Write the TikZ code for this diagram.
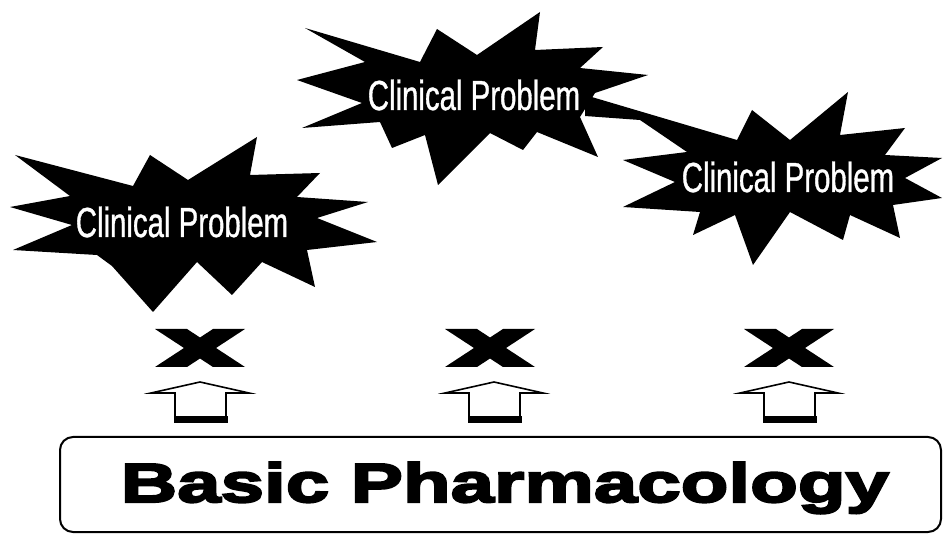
\documentclass[tikz,border=0pt]{standalone}
\usepackage{fontspec}
\newfontfamily\clinfont[FakeStretch=0.7,FakeBold=0.8]{Liberation Sans}
\newfontfamily\basicfont[FakeStretch=1.42,FakeBold=4]{Liberation Sans}
\tikzset{
  starfill/.style={fill=black,draw=none},
  clintext/.style={text=white,inner sep=0pt,anchor=base,font=\clinfont\fontsize{42}{42}\selectfont},
  basictext/.style={inner sep=0pt,anchor=base,font=\basicfont\bfseries\fontsize{55}{55}\selectfont},
  boxframe/.style={draw=black,line width=2pt,rounded corners=13pt},
  xmark/.pic={
    \fill[black] (-45,-19) -- (-13,-19) -- (0,-10.5) -- (13,-19) -- (45,-19) -- (16,0)
      -- (45,19) -- (13,19) -- (0,10.5) -- (-13,19) -- (-45,19) -- (-16,0) -- cycle;
  },
  uparrow/.pic={
    \draw[line width=1.6pt,line join=miter] (-25,421) -- (-25,393) -- (-49,393) -- (0,382)
      -- (49,393) -- (26,393) -- (26,421);
    \fill[black] (-26.5,416) rectangle (27.5,423);
  }
}
\begin{document}
\begin{tikzpicture}[x=1pt,y=-1pt]
\useasboundingbox (0,0) rectangle (943,534);
% star 1
\fill[starfill] (15,155) -- (133,186) -- (150,155) -- (188,180) -- (257,137) -- (250,175)
  -- (320,173) -- (297,197) -- (368,202) -- (317,218) -- (377,242) -- (307,250)
  -- (315,287) -- (262,262) -- (232,295) -- (197,262) -- (153,312) -- (112,266)
  -- (97,255) -- (13,250) -- (72,225) -- (10,207) -- (70,196) -- cycle;
% star 2
\fill[starfill] (305,28) -- (420,62) -- (437,29) -- (477,55) -- (540,12) -- (535,50)
  -- (603,47) -- (580,68) -- (648,75) -- (595,93) -- (580,117) -- (598,157)
  -- (537,132) -- (523,150) -- (490,133) -- (438,185) -- (425,135) -- (392,148)
  -- (380,122) -- (302,128) -- (362,103) -- (297,80) -- (365,62) -- cycle;
% star 3
\fill[starfill] (585,95) -- (737,140) -- (752,110) -- (790,140) -- (848,92) -- (840,135)
  -- (905,128) -- (885,155) -- (942,158) -- (905,178) -- (942,198) -- (893,205)
  -- (900,238) -- (850,215) -- (843,240) -- (790,212) -- (753,265) -- (735,215)
  -- (693,235) -- (700,212) -- (623,207) -- (675,182) -- (623,160) -- (687,152)
  -- (640,120) -- (585,116) -- cycle;
\node[clintext] (cp1) at (182,237) {Clinical Problem};
\node[clintext] (cp2) at (474,110) {Clinical Problem};
\node[clintext] (cp3) at (788,192) {Clinical Problem};
% x marks and arrows
\pic (x1) at (200,348) {xmark};
\pic (x2) at (490,348) {xmark};
\pic (x3) at (789,348) {xmark};
\pic (a1) at (200,0) {uparrow};
\pic (a2) at (494,0) {uparrow};
\pic (a3) at (789,0) {uparrow};
% basic box
\draw[boxframe] (60,437) rectangle (941,532);
\node[basictext] (bp) at (505,502) {Basic Pharmacology};
\end{tikzpicture}
\end{document}
